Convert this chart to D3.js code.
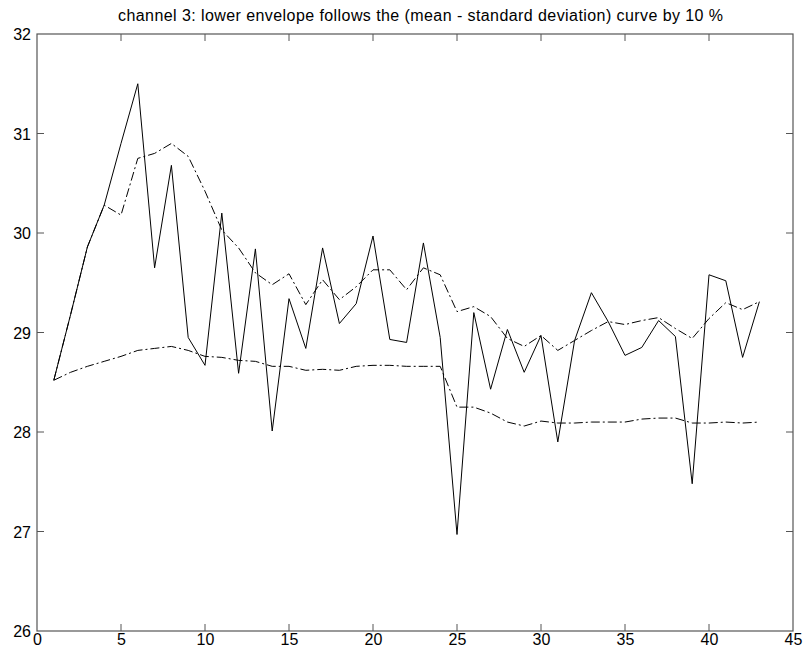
<!DOCTYPE html>
<html lang="en">
<head>
    <meta charset="UTF-8">
    <title>channel 3</title>
	<style>
		html, body { margin:0; padding:0; background:#fff; }
		#CHART { display:block; }
		#CHART text { font-family: "Liberation Sans", Arial, Helvetica, sans-serif; fill:#000; }
		#CHART .tick-label { font-size: 16px; }
		#CHART .title { font-size: 16px; text-anchor: middle; }
	</style>
</head>
<body>
	<svg id="CHART" width="803" height="659"></svg>

    <script src="https://cdnjs.cloudflare.com/ajax/libs/d3/7.8.5/d3.min.js"></script>
    <script>
		/******** data ********/
		var samples = d3.range(1, 44);

		var channelValues = [
			28.52, 29.18, 29.86, 30.28, 30.90, 31.50, 29.65, 30.68, 28.95, 28.67,
			30.20, 28.59, 29.84, 28.01, 29.34, 28.84, 29.85, 29.09, 29.29, 29.97,
			28.93, 28.90, 29.90, 28.95, 26.97, 29.20, 28.43, 29.03, 28.60, 28.97,
			27.90, 28.92, 29.40, 29.11, 28.77, 28.85, 29.12, 28.96, 27.48, 29.58,
			29.52, 28.75, 29.31
		];

		var upperEnvelope = [
			28.52, 29.18, 29.86, 30.28, 30.18, 30.75, 30.80, 30.90, 30.77, 30.42,
			30.03, 29.85, 29.60, 29.48, 29.59, 29.28, 29.53, 29.33, 29.46, 29.63,
			29.63, 29.43, 29.65, 29.58, 29.21, 29.26, 29.16, 28.94, 28.86, 28.97,
			28.82, 28.92, 29.02, 29.11, 29.08, 29.12, 29.15, 29.04, 28.94, 29.14,
			29.30, 29.23, 29.31
		];

		var lowerEnvelope = [
			28.52, 28.60, 28.66, 28.71, 28.76, 28.82, 28.84, 28.86, 28.82, 28.76,
			28.75, 28.72, 28.71, 28.66, 28.66, 28.62, 28.63, 28.62, 28.66, 28.67,
			28.67, 28.66, 28.66, 28.66, 28.25, 28.25, 28.19, 28.10, 28.06, 28.11,
			28.09, 28.09, 28.10, 28.10, 28.10, 28.13, 28.14, 28.14, 28.09, 28.09,
			28.10, 28.09, 28.10
		];

		var xTicks = [0, 5, 10, 15, 20, 25, 30, 35, 40, 45];
		var yTicks = [26, 27, 28, 29, 30, 31, 32];

		var titleText = "channel 3: lower envelope follows the (mean - standard deviation) curve by 10 %";

		/******** chart ********/
		var margin = { left: 37, right: 10, top: 34, bottom: 28 };
		var width = 803, height = 659;
		var plotLeft = margin.left, plotRight = width - margin.right;
		var plotTop = margin.top, plotBottom = height - margin.bottom;
		var tickLen = 7;

		var x = d3.scaleLinear().domain([0, 45]).range([plotLeft, plotRight]);
		var y = d3.scaleLinear().domain([26, 32]).range([plotBottom, plotTop]);

		var svg = d3.select("#CHART");

		// title
		svg.append("text")
			.attr("class", "title")
			.attr("x", 420.5)
			.attr("y", 21)
			.attr("textLength", 605)
			.attr("lengthAdjust", "spacing")
			.text(titleText);

		// series
		var line = d3.line()
			.x(function(d){ return x(d[0]); })
			.y(function(d){ return y(d[1]); });

		var pairs = function(vals){
			return samples.map(function(s, i){ return [s, vals[i]]; });
		};

		var series = [
			{ vals: lowerEnvelope, dash: "9,3,2,3" },
			{ vals: upperEnvelope, dash: "9,3,2,3" },
			{ vals: channelValues, dash: null }
		];

		svg.append("g")
			.selectAll("path")
			.data(series)
			.join("path")
				.attr("d", function(d){ return line(pairs(d.vals)); })
				.attr("fill", "none")
				.attr("stroke", "#000")
				.attr("stroke-width", 1)
				.attr("stroke-linejoin", "round")
				.attr("stroke-dasharray", function(d){ return d.dash; });

		// axes, ticks pointing inward on all four sides
		var axisColor = "#555";
		var axisBottom = d3.axisBottom(x).tickValues(xTicks).tickFormat(d3.format("d")).tickSize(0).tickPadding(6);
		var axisLeft = d3.axisLeft(y).tickValues(yTicks).tickFormat(d3.format("d")).tickSize(0).tickPadding(6);

		var gx = svg.append("g")
			.attr("transform", "translate(0," + plotBottom + ")")
			.call(axisBottom);
		var gy = svg.append("g")
			.attr("transform", "translate(" + plotLeft + ",0)")
			.call(axisLeft);

		[gx, gy].forEach(function(g){
			g.select(".domain").remove();
			g.selectAll("text")
				.attr("class", "tick-label")
				.attr("font-family", null)
				.attr("font-size", null)
				.attr("fill", "#000");
		});
		gx.selectAll("text").attr("dy", "0.72em").attr("y", 2);
		gy.selectAll("text").attr("dy", "0.36em");

		var ticks = svg.append("g")
			.attr("stroke", axisColor)
			.attr("stroke-width", 1);

		ticks.selectAll("line.xb")
			.data(xTicks.slice(1, -1))
			.join("line")
				.attr("x1", function(d){ return x(d); })
				.attr("x2", function(d){ return x(d); })
				.attr("y1", plotBottom)
				.attr("y2", plotBottom - tickLen);
		ticks.selectAll("line.xt")
			.data(xTicks.slice(1, -1))
			.join("line")
				.attr("class", "xt")
				.attr("x1", function(d){ return x(d); })
				.attr("x2", function(d){ return x(d); })
				.attr("y1", plotTop)
				.attr("y2", plotTop + tickLen);
		ticks.selectAll("line.yl")
			.data(yTicks.slice(1, -1))
			.join("line")
				.attr("class", "yl")
				.attr("x1", plotLeft)
				.attr("x2", plotLeft + tickLen)
				.attr("y1", function(d){ return y(d); })
				.attr("y2", function(d){ return y(d); });
		ticks.selectAll("line.yr")
			.data(yTicks.slice(1, -1))
			.join("line")
				.attr("class", "yr")
				.attr("x1", plotRight)
				.attr("x2", plotRight - tickLen)
				.attr("y1", function(d){ return y(d); })
				.attr("y2", function(d){ return y(d); });

		svg.append("rect")
			.attr("x", plotLeft)
			.attr("y", plotTop)
			.attr("width", plotRight - plotLeft)
			.attr("height", plotBottom - plotTop)
			.attr("fill", "none")
			.attr("stroke", axisColor)
			.attr("stroke-width", 1.2);
	</script>
</body>
</html>
